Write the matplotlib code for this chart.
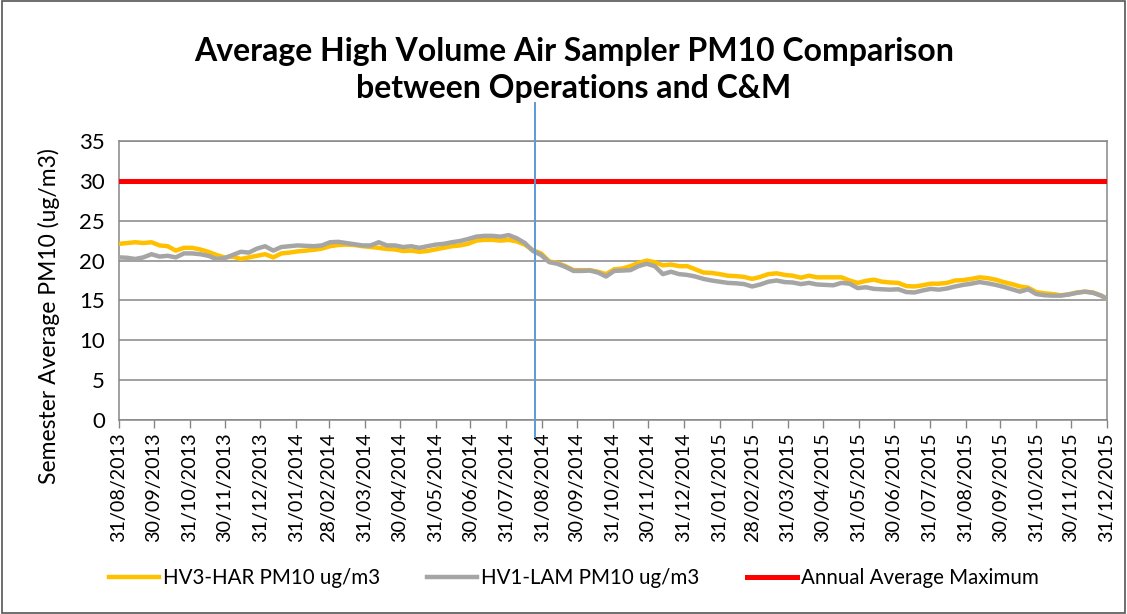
import matplotlib
matplotlib.use("Agg")
import matplotlib.pyplot as plt
import matplotlib.dates as mdates
import matplotlib.transforms as mtransforms
import pandas as pd
import numpy as np

plt.rcParams['font.family'] = ['Lato', 'DejaVu Sans']

title = "Average High Volume Air Sampler PM10 Comparison\nbetween Operations and C&M"
ylabel = "Semester Average PM10 (ug/m3)"
series_names = ["HV3-HAR PM10 ug/m3", "HV1-LAM PM10 ug/m3", "Annual Average Maximum"]

# weekly observations from 31/08/2013, plus the final point 31/12/2015
dates = list(pd.date_range("2013-08-31", periods=122, freq="7D")) + [pd.Timestamp("2015-12-31")]

hv3_har = [
    22.1, 22.2, 22.3, 22.2, 22.3, 21.9, 21.8, 21.25, 21.6, 21.6,
    21.4, 21.1, 20.7, 20.4, 20.5, 20.2, 20.4, 20.6, 20.8, 20.4,
    20.9, 21.0, 21.15, 21.25, 21.35, 21.5, 21.8, 21.95, 22.0, 21.95,
    21.8, 21.7, 21.6, 21.45, 21.4, 21.2, 21.25, 21.1, 21.2, 21.4,
    21.6, 21.8, 21.9, 22.1, 22.5, 22.6, 22.6, 22.5, 22.6, 22.4,
    22.0, 21.3, 20.9, 19.9, 19.7, 19.3, 18.8, 18.8, 18.8, 18.6,
    18.3, 18.9, 19.0, 19.3, 19.7, 20.0, 19.8, 19.4, 19.5, 19.3,
    19.3, 18.9, 18.5, 18.45, 18.3, 18.1, 18.05, 17.95, 17.7, 17.95,
    18.3, 18.4, 18.2, 18.1, 17.85, 18.1, 17.9, 17.9, 17.9, 17.9,
    17.5, 17.2, 17.45, 17.6, 17.35, 17.25, 17.2, 16.8, 16.75, 16.9,
    17.1, 17.1, 17.2, 17.5, 17.55, 17.7, 17.9, 17.8, 17.6, 17.3,
    17.05, 16.75, 16.6, 16.05, 15.9, 15.8, 15.65, 15.75, 16.0, 16.1,
    16.0, 15.6, 15.2,
]

hv1_lam = [
    20.4, 20.35, 20.2, 20.4, 20.8, 20.5, 20.6, 20.4, 20.9, 20.9,
    20.8, 20.6, 20.2, 20.3, 20.7, 21.1, 21.0, 21.5, 21.8, 21.25,
    21.7, 21.8, 21.9, 21.85, 21.8, 21.9, 22.3, 22.35, 22.2, 22.05,
    21.9, 21.9, 22.3, 21.9, 21.9, 21.7, 21.8, 21.6, 21.8, 22.0,
    22.1, 22.3, 22.45, 22.7, 23.0, 23.1, 23.1, 23.0, 23.2, 22.8,
    22.2, 21.2, 20.7, 19.8, 19.6, 19.2, 18.7, 18.7, 18.75, 18.5,
    18.0, 18.7, 18.75, 18.8, 19.3, 19.6, 19.3, 18.3, 18.6, 18.3,
    18.2, 18.0, 17.7, 17.5, 17.35, 17.2, 17.15, 17.05, 16.75, 17.0,
    17.35, 17.5, 17.3, 17.25, 17.05, 17.2, 17.0, 16.95, 16.9, 17.2,
    17.1, 16.55, 16.65, 16.45, 16.4, 16.35, 16.4, 16.05, 16.0, 16.25,
    16.45, 16.35, 16.5, 16.75, 16.95, 17.1, 17.3, 17.15, 16.95, 16.7,
    16.4, 16.1, 16.4, 15.8, 15.65, 15.6, 15.6, 15.75, 15.95, 16.1,
    15.95, 15.6, 15.2,
]

annual_max = 30
divider_date = pd.Timestamp("2014-08-25")
tick_dates = [pd.Timestamp("2013-08-31")] + list(pd.date_range("2013-09-30", "2015-12-31", freq="ME"))
y_ticks = [0, 5, 10, 15, 20, 25, 30, 35]

fig = plt.figure(figsize=(11.27, 6.14), dpi=100)
ax = fig.add_axes([119/1127, 1 - 420/614, (1107 - 119)/1127, (420 - 141)/614])

grid_c = "#868686"
ax.set_ylim(0, 35)
ax.set_xlim(tick_dates[0], tick_dates[-1])
ax.set_yticks(y_ticks)
for v in y_ticks:
    ax.axhline(v, color=grid_c, lw=1.1, zorder=1)

ax.plot(dates, hv3_har, color="#FFC000", lw=3.2, zorder=3, label=series_names[0], solid_joinstyle="round")
ax.plot(dates, hv1_lam, color="#A5A5A5", lw=3.2, zorder=4, label=series_names[1], solid_joinstyle="round")
ax.plot([tick_dates[0], tick_dates[-1]], [annual_max, annual_max], color="#FF0000", lw=3.6, zorder=5,
        label=series_names[2])

trans = mtransforms.blended_transform_factory(ax.transData, ax.transAxes)
ax.plot([divider_date, divider_date], [1.136, -0.061], transform=trans, color="#5B9BD5", lw=1.4,
        clip_on=False, zorder=6)

ax.set_xticks(tick_dates)
ax.xaxis.set_major_formatter(mdates.DateFormatter("%d/%m/%Y"))
for lab in ax.get_xticklabels():
    lab.set_rotation(90)
ax.tick_params(axis="x", direction="out", length=6, width=1, color=grid_c, labelsize=14.2, pad=3)
ax.tick_params(axis="y", direction="out", length=0, width=1, color=grid_c, labelsize=16, pad=10)
for s in ax.spines.values():
    s.set_color(grid_c)
    s.set_linewidth(1.1)

ax.set_ylabel(ylabel, fontsize=16.5)
ax.yaxis.set_label_coords((60 - 119) / 988, (420 - 316) / 279)

fig.text(0.509, 1 - 70/614, title, ha="center", va="center", fontsize=23, fontweight="bold", linespacing=1.35)

leg = fig.legend(loc="center", bbox_to_anchor=(0.509, 1 - 578/614), ncol=3, frameon=False, fontsize=14.8,
                 handlelength=2.43, columnspacing=2.3, handletextpad=0.2)

fig.patches.append(plt.Rectangle((0.002, 0.002), 0.996, 0.996, transform=fig.transFigure,
                                 fill=False, edgecolor="#555555", lw=1.2))

fig.savefig("out.png", dpi=100)
